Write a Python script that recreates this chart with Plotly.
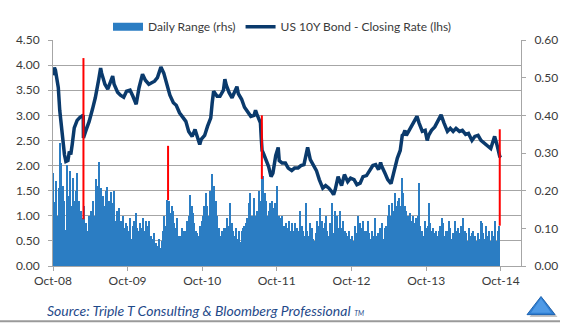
import plotly.graph_objects as go
import pandas as pd

# ---------------- data ----------------
line_dates = [
 "2008-10-20","2008-10-27","2008-11-01","2008-11-08","2008-11-15","2008-11-22","2008-12-01","2008-12-08",
 "2008-12-15","2008-12-22","2009-01-01","2009-01-08","2009-01-15","2009-01-22","2009-02-01","2009-02-15",
 "2009-03-01","2009-03-17","2009-03-18","2009-04-01","2009-04-15","2009-05-01","2009-05-15","2009-06-01",
 "2009-06-10","2009-06-15","2009-07-01","2009-07-15","2009-08-01","2009-08-08","2009-08-15","2009-09-01",
 "2009-09-15","2009-10-01","2009-10-15","2009-11-01","2009-11-15","2009-12-01","2009-12-15","2010-01-01",
 "2010-01-15","2010-02-01","2010-02-15","2010-03-01","2010-03-15","2010-04-01","2010-04-15","2010-05-01",
 "2010-05-15","2010-06-01","2010-06-15","2010-07-01","2010-07-15","2010-08-01","2010-08-15","2010-09-01",
 "2010-09-15","2010-10-01","2010-10-08","2010-10-15","2010-11-01","2010-11-15","2010-12-01","2010-12-08",
 "2010-12-15","2011-01-01","2011-01-15","2011-02-01","2011-02-08","2011-02-15","2011-03-01","2011-03-15",
 "2011-04-01","2011-04-08","2011-04-15","2011-05-01","2011-05-15","2011-06-01","2011-06-15","2011-07-01",
 "2011-07-08","2011-07-15","2011-08-01","2011-08-05","2011-08-09","2011-08-15","2011-09-01","2011-09-10",
 "2011-09-22","2011-10-01","2011-10-15","2011-10-27","2011-11-01","2011-11-15","2011-12-01","2011-12-15",
 "2012-01-01","2012-01-15","2012-02-01","2012-02-15","2012-03-01","2012-03-15","2012-03-19","2012-04-01",
 "2012-04-15","2012-05-01","2012-05-15","2012-06-01","2012-06-15","2012-07-01","2012-07-15","2012-07-24",
 "2012-08-01","2012-08-15","2012-09-01","2012-09-15","2012-10-01","2012-10-15","2012-11-01","2012-11-15",
 "2012-12-01","2012-12-15","2013-01-01","2013-01-15","2013-02-01","2013-02-15","2013-03-01","2013-03-11",
 "2013-03-15","2013-04-01","2013-04-15","2013-05-01","2013-05-15","2013-06-01","2013-06-15","2013-06-25",
 "2013-07-01","2013-07-08","2013-07-15","2013-08-01","2013-08-15","2013-09-01","2013-09-05","2013-09-15",
 "2013-10-01","2013-10-15","2013-10-25","2013-11-01","2013-11-15","2013-12-01","2013-12-15","2014-01-01",
 "2014-01-15","2014-02-01","2014-02-15","2014-03-01","2014-03-15","2014-04-01","2014-04-15","2014-05-01",
 "2014-05-15","2014-06-01","2014-06-15","2014-07-01","2014-07-15","2014-08-01","2014-08-15","2014-09-01",
 "2014-09-15","2014-09-20","2014-10-01","2014-10-08","2014-10-15","2014-10-21"]
line_vals = [
 3.80,3.95,3.90,3.75,3.55,3.10,2.72,2.45,
 2.22,2.08,2.10,2.28,2.22,2.42,2.75,2.90,
 2.96,3.00,2.55,2.72,2.88,3.12,3.35,3.72,
 3.94,3.84,3.62,3.52,3.70,3.78,3.62,3.46,
 3.40,3.36,3.48,3.50,3.38,3.22,3.55,3.82,
 3.70,3.62,3.65,3.68,3.75,3.96,3.84,3.62,
 3.40,3.25,3.20,3.05,2.98,2.88,2.68,2.58,
 2.72,2.52,2.42,2.52,2.60,2.78,2.95,3.25,
 3.48,3.38,3.38,3.50,3.72,3.60,3.45,3.35,
 3.50,3.57,3.43,3.32,3.16,3.05,2.98,3.00,
 3.10,3.02,2.85,2.55,2.30,2.25,2.10,1.98,
 1.78,1.85,2.20,2.36,2.10,2.05,2.05,1.95,
 1.90,1.95,1.95,2.00,2.02,2.30,2.36,2.12,
 2.00,1.90,1.72,1.55,1.60,1.55,1.48,1.42,
 1.52,1.78,1.60,1.82,1.68,1.75,1.72,1.62,
 1.65,1.78,1.80,1.88,2.00,2.02,1.92,2.06,
 2.00,1.85,1.72,1.64,1.90,2.15,2.30,2.60,
 2.62,2.70,2.60,2.72,2.82,2.92,2.98,2.85,
 2.68,2.70,2.50,2.60,2.70,2.77,2.88,3.01,
 2.85,2.68,2.74,2.68,2.74,2.68,2.70,2.62,
 2.64,2.50,2.58,2.60,2.50,2.45,2.40,2.34,
 2.52,2.58,2.42,2.30,2.18,2.16]

# weekly daily-range readings (rhs, %), weeks starting 2008-10-20
range_start = "2008-10-20"
range_vals = [
 0.248,0.171,0.227,0.133,0.207,0.327,0.273,0.213,0.173,0.096,
 0.267,0.187,0.253,0.160,0.233,0.173,0.200,0.248,0.173,0.133,
 0.147,0.127,0.160,0.113,0.093,0.133,0.113,0.147,0.173,0.133,
 0.231,0.213,0.276,0.173,0.207,0.187,0.160,0.200,0.211,0.173,
 0.147,0.196,0.167,0.200,0.120,0.147,0.153,0.113,0.120,0.133,
 0.100,0.113,0.107,0.093,0.127,0.073,0.107,0.120,0.140,0.100,
 0.093,0.113,0.100,0.127,0.093,0.120,0.107,0.120,0.073,0.080,
 0.073,0.087,0.060,0.053,0.073,0.047,0.067,0.093,0.133,0.107,
 0.175,0.173,0.140,0.160,0.147,0.113,0.100,0.127,0.080,0.080,
 0.100,0.073,0.093,0.093,0.120,0.133,0.188,0.160,0.140,0.113,
 0.093,0.087,0.080,0.107,0.120,0.133,0.160,0.193,0.160,0.133,
 0.200,0.243,0.200,0.213,0.173,0.133,0.100,0.080,0.093,0.073,
 0.100,0.100,0.127,0.107,0.167,0.113,0.093,0.080,0.100,0.073,
 0.093,0.065,0.093,0.100,0.107,0.113,0.127,0.167,0.193,0.133,
 0.113,0.180,0.133,0.147,0.200,0.173,0.231,0.240,0.193,0.173,
 0.133,0.147,0.167,0.173,0.153,0.167,0.140,0.213,0.133,0.127,
 0.133,0.107,0.107,0.113,0.100,0.120,0.093,0.113,0.093,0.113,
 0.080,0.100,0.093,0.147,0.107,0.093,0.080,0.167,0.093,0.080,
 0.113,0.100,0.073,0.067,0.087,0.120,0.107,0.153,0.120,0.100,
 0.113,0.133,0.093,0.080,0.113,0.167,0.087,0.147,0.127,0.133,
 0.100,0.147,0.100,0.120,0.093,0.087,0.080,0.093,0.073,0.080,
 0.067,0.107,0.087,0.133,0.093,0.113,0.100,0.120,0.093,0.093,
 0.120,0.087,0.073,0.093,0.080,0.127,0.080,0.087,0.080,0.100,
 0.113,0.073,0.100,0.107,0.133,0.163,0.133,0.167,0.147,0.193,
 0.160,0.173,0.180,0.160,0.233,0.193,0.160,0.147,0.133,0.127,
 0.140,0.120,0.133,0.113,0.127,0.133,0.221,0.107,0.093,0.080,
 0.120,0.100,0.107,0.167,0.113,0.093,0.100,0.087,0.093,0.080,
 0.093,0.107,0.127,0.113,0.080,0.093,0.093,0.120,0.100,0.073,
 0.087,0.120,0.093,0.100,0.087,0.107,0.080,0.127,0.093,0.087,
 0.067,0.100,0.080,0.087,0.093,0.080,0.067,0.087,0.073,0.120,
 0.113,0.087,0.073,0.107,0.080,0.093,0.067,0.093,0.080,0.120,
 0.067,0.093,0.107]

# highlighted extreme days (rhs, %)
spike_dates = ["2009-03-18", "2010-05-06", "2011-08-08", "2014-10-15"]
spike_low = [0.124, 0.175, 0.231, 0.107]
spike_high = [0.552, 0.319, 0.400, 0.363]

x_tick_dates = ["2008-10-20","2009-10-20","2010-10-20","2011-10-20","2012-10-20","2013-10-20","2014-10-20"]
x_tick_text = ["Oct-08","Oct-09","Oct-10","Oct-11","Oct-12","Oct-13","Oct-14"]
left_ticks = [0, 0.5, 1.0, 1.5, 2.0, 2.5, 3.0, 3.5, 4.0, 4.5]
right_ticks = [0, 0.1, 0.2, 0.3, 0.4, 0.5, 0.6]

# ---------------- styling ----------------
W, H = 570, 328
L, R, T, B = 53, 49, 29, 62
PW, PH = W - L - R, H - T - B
BAR = "#2B7DC3"
NAVY = "#0A3A6C"
AXIS = "#A6A6A6"
TXT = "#3A3A3A"
FONT = "Lato, 'Open Sans', sans-serif"

def px(x):
    return (x - L) / PW

def py(y):
    return (H - B - y) / PH

range_dates = pd.date_range(range_start, periods=len(range_vals), freq="7D")

rx, ry = [], []
for d, lo, hi in zip(spike_dates, spike_low, spike_high):
    rx += [d, d, None]
    ry += [lo, hi, None]

fig = go.Figure()
fig.add_trace(go.Bar(x=range_dates, y=range_vals, yaxis="y", name="Daily Range (rhs)",
                     marker=dict(color=BAR, line=dict(width=0)), showlegend=False))
fig.add_trace(go.Scatter(x=[None], y=[None], yaxis="y", mode="lines", name="Daily Range (rhs)",
                         line=dict(color=BAR, width=8), legendrank=1))
fig.add_trace(go.Scatter(x=line_dates, y=line_vals, yaxis="y2", mode="lines",
                         name="US 10Y Bond - Closing Rate (lhs)",
                         line=dict(color=NAVY, width=3.5), legendrank=2))
fig.add_trace(go.Scatter(x=rx, y=ry, yaxis="y3", mode="lines", showlegend=False,
                         line=dict(color="#FF0000", width=2)))

fig.update_layout(
    width=W, height=H,
    margin=dict(l=L, r=R, t=T, b=B, pad=0),
    paper_bgcolor="white", plot_bgcolor="white",
    font=dict(family=FONT, size=12, color=TXT),
    bargap=0,
    xaxis=dict(type="date", range=["2008-10-20", "2015-01-27"],
               tickvals=x_tick_dates, ticktext=x_tick_text,
               ticks="outside", ticklen=4, tickcolor=AXIS,
               showline=True, linecolor=AXIS, linewidth=1,
               showgrid=False, zeroline=False,
               tickfont=dict(size=12, color=TXT)),
    yaxis=dict(side="right", range=[0, 0.6], tickvals=right_ticks, tickformat=".2f",
               ticks="outside", ticklen=4, tickcolor=AXIS,
               showline=True, linecolor=AXIS, linewidth=1,
               showgrid=False, zeroline=False, ticklabelstandoff=6,
               tickfont=dict(size=12, color=TXT)),
    yaxis2=dict(overlaying="y", side="left", range=[0, 4.5], tickvals=left_ticks, tickformat=".2f",
                ticks="outside", ticklen=4, tickcolor=AXIS,
                showline=True, linecolor=AXIS, linewidth=1,
                showgrid=True, gridcolor=AXIS, gridwidth=1, zeroline=False,
                ticklabelstandoff=6, tickfont=dict(size=12, color=TXT)),
    yaxis3=dict(overlaying="y", range=[0, 0.6], visible=False),
    legend=dict(orientation="h", x=px(108), y=py(15), xanchor="left", yanchor="middle",
                font=dict(size=12, color=TXT), bgcolor="rgba(0,0,0,0)",
                itemwidth=30, tracegroupgap=0),
    showlegend=True,
)

# footer: source text, rule line and logo triangle
fig.add_annotation(xref="paper", yref="paper", x=px(45), y=py(313), xanchor="left", yanchor="middle",
                   showarrow=False,
                   text="<i>Source: Triple T Consulting &amp; Bloomberg Professional</i> <span style='font-size:7px'><i>TM</i></span>",
                   font=dict(family=FONT, size=14, color="#1F4A8A"))
fig.add_shape(type="line", xref="paper", yref="paper", x0=px(0), x1=px(560), y0=py(324), y1=py(324),
              line=dict(color="#9A9A9A", width=2))

def tri(x_top, y_top, x_l, x_r, y_b):
    return (f"M {px(x_top)} {py(y_top)} L {px(x_l)} {py(y_b)} L {px(x_r)} {py(y_b)} Z")

fig.add_shape(type="path", xref="paper", yref="paper", path=tri(543.5, 300.5, 529.5, 557.5, 319.5),
              fillcolor="rgba(90,90,90,0.35)", line=dict(width=0))
fig.add_shape(type="path", xref="paper", yref="paper", path=tri(541, 298, 527, 555, 317),
              fillcolor="#2F7FD3", line=dict(color="#1E63B0", width=1))
fig.add_shape(type="path", xref="paper", yref="paper", path=tri(541, 300, 531, 551, 315),
              fillcolor="#4F9AE6", line=dict(width=0))

fig.write_html("out.html")
